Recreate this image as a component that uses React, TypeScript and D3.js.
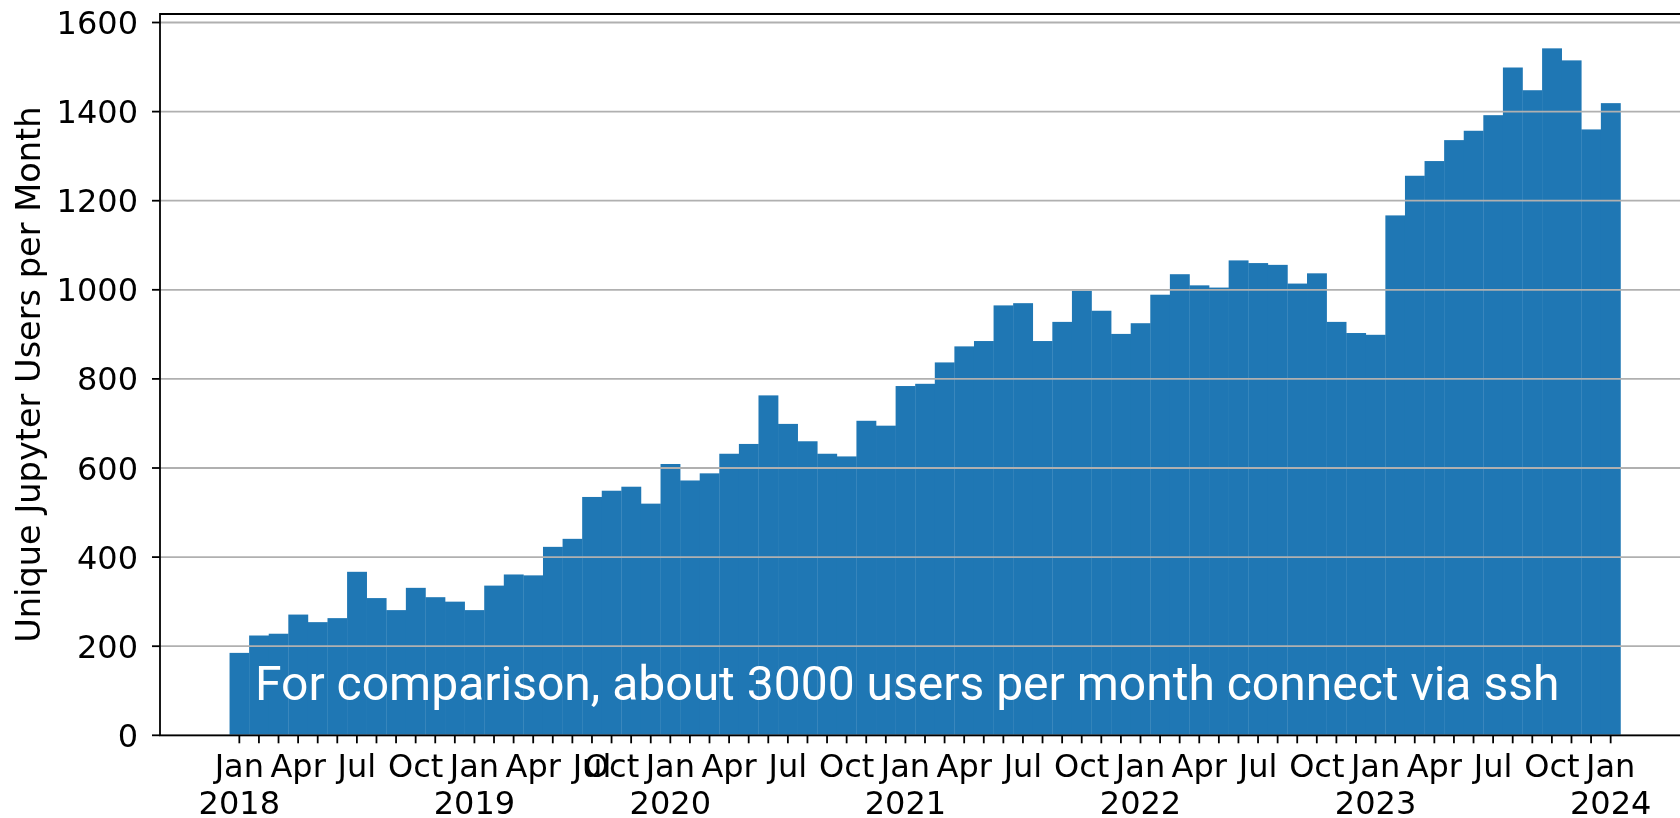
import React, { useEffect, useRef } from 'react';
import * as d3 from 'd3';

// months present in the data (Aug and Sep 2019 are missing)
const months = [
  '2018-01', '2018-02', '2018-03', '2018-04', '2018-05', '2018-06', '2018-07', '2018-08', '2018-09', '2018-10', '2018-11', '2018-12',
  '2019-01', '2019-02', '2019-03', '2019-04', '2019-05', '2019-06', '2019-07', '2019-10', '2019-11', '2019-12',
  '2020-01', '2020-02', '2020-03', '2020-04', '2020-05', '2020-06', '2020-07', '2020-08', '2020-09', '2020-10', '2020-11', '2020-12',
  '2021-01', '2021-02', '2021-03', '2021-04', '2021-05', '2021-06', '2021-07', '2021-08', '2021-09', '2021-10', '2021-11', '2021-12',
  '2022-01', '2022-02', '2022-03', '2022-04', '2022-05', '2022-06', '2022-07', '2022-08', '2022-09', '2022-10', '2022-11', '2022-12',
  '2023-01', '2023-02', '2023-03', '2023-04', '2023-05', '2023-06', '2023-07', '2023-08', '2023-09', '2023-10', '2023-11', '2023-12',
  '2024-01',
];

const users = [
  185, 224, 228, 271, 254, 263, 367, 308, 281, 331, 310, 300,
  281, 336, 361, 359, 423, 441, 535, 549, 558, 520,
  609, 572, 588, 632, 654, 763, 699, 660, 632, 626, 706, 695,
  784, 789, 837, 873, 885, 965, 970, 885, 928, 998, 953, 901,
  925, 989, 1035, 1010, 1005, 1066, 1060, 1056, 1014, 1037, 928, 903,
  899, 1167, 1256, 1289, 1336, 1357, 1392, 1499, 1448, 1542, 1515, 1360,
  1419,
];

const quarterLabels: Record<string, string> = { '01': 'Jan', '04': 'Apr', '07': 'Jul', '10': 'Oct' };
const yTicks = [0, 200, 400, 600, 800, 1000, 1200, 1400, 1600];
const yLabel = 'Unique Jupyter Users per Month';
const note = 'For comparison, about 3000 users per month connect via ssh';

export default function App() {
  const svgRef = useRef<SVGSVGElement>(null);

  useEffect(() => {
    if (!svgRef.current) return;
    const svg = d3.select(svgRef.current);
    svg.selectAll('*').remove();

    const width = 1680;
    const height = 818;
    const left = 160, right = 1690, top = 14, bottom = 735.3;
    const font = '"DejaVu Sans", sans-serif';

    // matplotlib-style 5% margin around the bars on x
    const n = users.length;
    const pad = n * 0.05;
    const x = d3.scaleLinear().domain([-0.5 - pad, n - 0.5 + pad]).range([left, right]);
    const y = d3.scaleLinear().domain([0, (d3.max(users) || 0) * 1.05]).range([bottom, top]);
    const bw = x(1) - x(0);

    svg.attr('width', width).attr('height', height);

    // bars
    svg.append('g')
      .selectAll('rect')
      .data(users)
      .enter()
      .append('rect')
      .attr('x', (d, i) => x(i) - bw / 2)
      .attr('y', d => y(d))
      .attr('width', bw + 0.3)
      .attr('height', d => bottom - y(d))
      .attr('fill', '#1f77b4');

    // grid on top of the bars
    svg.append('g')
      .selectAll('line')
      .data(yTicks)
      .enter()
      .append('line')
      .attr('x1', left)
      .attr('x2', right)
      .attr('y1', d => y(d))
      .attr('y2', d => y(d))
      .attr('stroke', '#b0b0b0')
      .attr('stroke-width', 1.8);

    // annotation
    svg.append('text')
      .attr('x', x(0.8))
      .attr('y', y(80))
      .attr('fill', '#ffffff')
      .style('font-family', 'Roboto, sans-serif')
      .style('font-size', '48px')
      .text(note);

    // y ticks
    const yAxis = svg.append('g');
    yAxis.selectAll('line')
      .data(yTicks)
      .enter()
      .append('line')
      .attr('x1', left - 8)
      .attr('x2', left)
      .attr('y1', d => y(d))
      .attr('y2', d => y(d))
      .attr('stroke', '#000')
      .attr('stroke-width', 1.8);
    yAxis.selectAll('text')
      .data(yTicks)
      .enter()
      .append('text')
      .attr('x', left - 22)
      .attr('y', d => y(d))
      .attr('dy', '0.36em')
      .attr('text-anchor', 'end')
      .style('font-family', font)
      .style('font-size', '32px')
      .text(d => String(d));

    svg.append('text')
      .attr('transform', 'rotate(-90)')
      .attr('x', -(top + bottom) / 2)
      .attr('y', 40)
      .attr('text-anchor', 'middle')
      .style('font-family', font)
      .style('font-size', '33.6px')
      .text(yLabel);

    // x ticks, one per bar
    const xAxis = svg.append('g');
    xAxis.selectAll('line')
      .data(months)
      .enter()
      .append('line')
      .attr('x1', (d, i) => x(i))
      .attr('x2', (d, i) => x(i))
      .attr('y1', bottom)
      .attr('y2', bottom + 8)
      .attr('stroke', '#000')
      .attr('stroke-width', 1.8);

    const labelled = months
      .map((m, i) => ({ m, i }))
      .filter(d => quarterLabels[d.m.slice(5)]);

    const lbl = xAxis.selectAll('text')
      .data(labelled)
      .enter()
      .append('text')
      .attr('text-anchor', 'middle')
      .style('font-family', font)
      .style('font-size', '32px');
    lbl.append('tspan')
      .attr('x', d => x(d.i))
      .attr('y', 776.5)
      .text(d => quarterLabels[d.m.slice(5)]);
    lbl.filter(d => d.m.slice(5) === '01')
      .append('tspan')
      .attr('x', d => x(d.i))
      .attr('y', 814)
      .text(d => d.m.slice(0, 4));

    // spines
    svg.append('path')
      .attr('d', `M${right},${top}H${left}V${bottom}H${right}`)
      .attr('fill', 'none')
      .attr('stroke', '#000')
      .attr('stroke-width', 1.8);
  }, []);

  return (
    <div style={{ position: 'fixed', left: 0, top: 0 }}>
      <svg ref={svgRef} style={{ display: 'block' }} />
    </div>
  );
}
